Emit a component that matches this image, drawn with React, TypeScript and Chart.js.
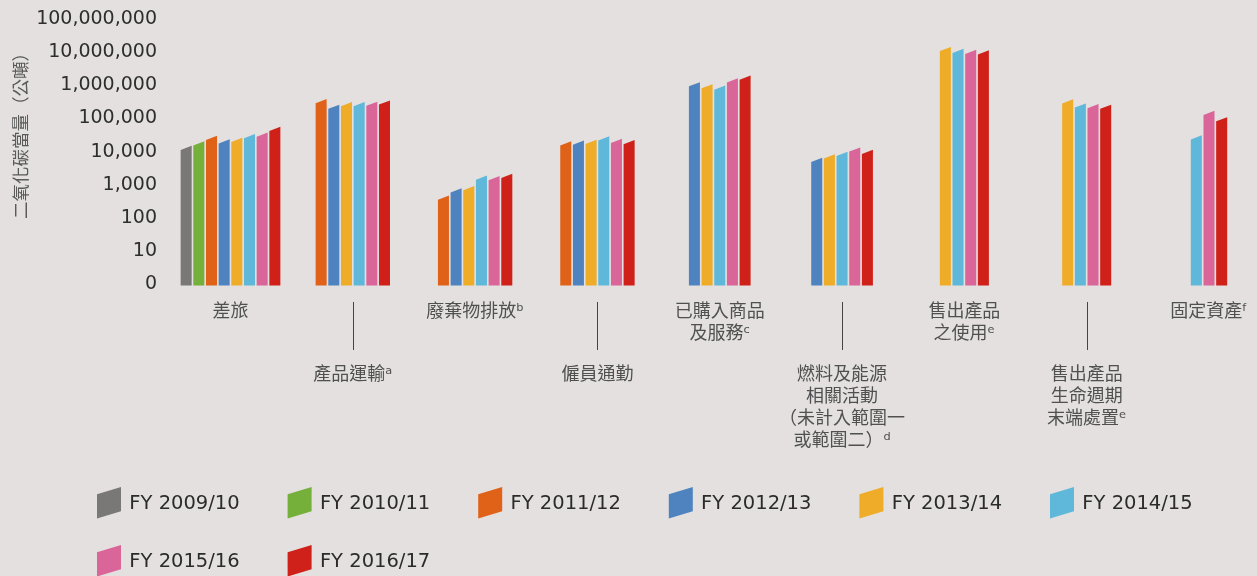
import React, { useEffect, useRef } from 'react';
import { Chart, registerables } from 'chart.js';

Chart.register(...registerables);

// ---- data ----
const categories: string[][] = [
  ['差旅'],
  ['產品運輸ᵃ'],
  ['廢棄物排放ᵇ'],
  ['僱員通勤'],
  ['已購入商品', '及服務ᶜ'],
  ['燃料及能源', '相關活動', '（未計入範圍一', '或範圍二）ᵈ'],
  ['售出產品', '之使用ᵉ'],
  ['售出產品', '生命週期', '末端處置ᵉ'],
  ['固定資產ᶠ'],
];

const seriesLabels = ['FY 2009/10', 'FY 2010/11', 'FY 2011/12', 'FY 2012/13', 'FY 2013/14', 'FY 2014/15', 'FY 2015/16', 'FY 2016/17'];
const seriesColors = ['#7a7876', '#74b03a', '#e06219', '#4f83bf', '#eeac28', '#5fb8da', '#da6699', '#cf2019'];

const fy0910 = [12900, null, null, null, null, null, null, null, null];
const fy1011 = [17700, null, null, null, null, null, null, null, null];
const fy1112 = [25900, 329000, 410, 17700, null, null, null, null, null];
const fy1213 = [20200, 224000, 680, 18600, 1064000, 5620, null, null, null];
const fy1314 = [22400, 267000, 800, 19600, 927000, 7170, 12240000, 326000, null];
const fy1415 = [29200, 270000, 1650, 24900, 841000, 8510, 10800000, 244000, 26900];
const fy1516 = [32400, 276000, 1600, 21100, 1387000, 11560, 10070000, 235000, 146000];
const fy1617 = [48500, 300000, 1870, 19200, 1686000, 9800, 9720000, 224000, 94000];
const seriesValues = [fy0910, fy1011, fy1112, fy1213, fy1314, fy1415, fy1516, fy1617];

const tickValues = [1, 10, 100, 1000, 10000, 100000, 1000000, 10000000, 100000000];
const tickLabels = ['0', '10', '100', '1,000', '10,000', '100,000', '1,000,000', '10,000,000', '100,000,000'];
const axisTitle = '二氧化碳當量（公噸）';

// ---- styles ----
const BG = '#e3e0df';
const CJK_FONT = '"Noto Sans CJK TC", "DejaVu Sans", sans-serif';
const LATIN_FONT = '"DejaVu Sans", sans-serif';
const BAR_PITCH = 12.67;
const BAR_FILL = 0.87;
const SLANT = 4.2;

const customDraw = {
  id: 'customDraw',
  beforeDatasetsDraw(chart: any) {
    const ctx = chart.ctx;
    chart.data.datasets.forEach((ds: any, di: number) => {
      const meta = chart.getDatasetMeta(di);
      if (meta.hidden) return;
      meta.data.forEach((el: any, i: number) => {
        const v = ds.data[i];
        if (v == null) return;
        const { x, y, base, width } = el.getProps(['x', 'y', 'base', 'width'], true);
        if (!isFinite(y)) return;
        const w = width * BAR_FILL;
        ctx.save();
        ctx.beginPath();
        ctx.moveTo(x - w / 2, base + 1);
        ctx.lineTo(x - w / 2, y + SLANT / 2);
        ctx.lineTo(x + w / 2, y - SLANT / 2);
        ctx.lineTo(x + w / 2, base + 1);
        ctx.closePath();
        ctx.fillStyle = ds.backgroundColor;
        ctx.fill();
        ctx.restore();
      });
    });
    return false;
  },
  afterDraw(chart: any) {
    const ctx = chart.ctx;
    const area = chart.chartArea;
    const xs = chart.scales.x;

    // category labels (staggered)
    ctx.save();
    ctx.font = `18px ${CJK_FONT}`;
    ctx.fillStyle = '#505050';
    ctx.textAlign = 'center';
    ctx.textBaseline = 'middle';
    categories.forEach((lines, i) => {
      const px = xs.getPixelForValue(i);
      const low = i % 2 === 1;
      const y0 = area.bottom + (low ? 88.5 : 26);
      lines.forEach((t, k) => ctx.fillText(t, px, y0 + k * 22));
      if (low) {
        ctx.beginPath();
        ctx.strokeStyle = '#444';
        ctx.lineWidth = 1;
        const lx = Math.round(px) + 0.5;
        ctx.moveTo(lx, area.bottom + 17.5);
        ctx.lineTo(lx, area.bottom + 65.5);
        ctx.stroke();
      }
    });
    ctx.restore();

    // y axis title
    ctx.save();
    ctx.translate(20.7, (area.top + area.bottom) / 2 - 20);
    ctx.rotate(-Math.PI / 2);
    ctx.font = `17.5px ${CJK_FONT}`;
    ctx.fillStyle = '#5a5a5a';
    ctx.textAlign = 'center';
    ctx.textBaseline = 'middle';
    ctx.fillText(axisTitle, 0, 0);
    ctx.restore();

    // legend
    ctx.save();
    ctx.font = `19.5px ${LATIN_FONT}`;
    ctx.textAlign = 'left';
    ctx.textBaseline = 'middle';
    seriesLabels.forEach((label, i) => {
      const col = i % 6;
      const row = Math.floor(i / 6);
      const x0 = 97 + col * 190.6;
      const cy = area.bottom + 219 + row * 58;
      ctx.beginPath();
      ctx.moveTo(x0, cy - 9.3);
      ctx.lineTo(x0 + 24, cy - 16.6);
      ctx.lineTo(x0 + 24, cy + 7.7);
      ctx.lineTo(x0, cy + 15);
      ctx.closePath();
      ctx.fillStyle = seriesColors[i];
      ctx.fill();
      ctx.fillStyle = '#2b2b2b';
      ctx.fillText(label, x0 + 32.3, cy);
    });
    ctx.restore();
  },
};

export default function App() {
  const ref = useRef<HTMLCanvasElement | null>(null);

  useEffect(() => {
    if (!ref.current) return;
    const chart = new Chart(ref.current, {
      type: 'bar',
      data: {
        labels: categories.map((c) => c.join('')),
        datasets: seriesValues.map((data, i) => ({
          label: seriesLabels[i],
          data,
          backgroundColor: seriesColors[i],
          barThickness: BAR_PITCH,
          skipNull: true,
        })) as any,
      },
      options: {
        responsive: false,
        animation: false,
        devicePixelRatio: 1,
        layout: { padding: { left: 0, right: 48, top: 18.7, bottom: 291.5 } },
        plugins: {
          legend: { display: false },
          tooltip: { enabled: false },
        },
        scales: {
          x: {
            type: 'category',
            offset: false,
            display: false,
            grid: { display: false },
          },
          y: {
            type: 'logarithmic',
            min: 1,
            max: 100000000,
            grid: { display: false, drawTicks: false },
            border: { display: false },
            afterBuildTicks: (axis: any) => {
              axis.ticks = tickValues.map((v) => ({ value: v }));
            },
            afterFit: (axis: any) => {
              axis.width = 230.5;
              axis.paddingTop = 0;
              axis.paddingBottom = 0;
            },
            ticks: {
              autoSkip: false,
              padding: 73.5,
              color: '#2e2e2e',
              font: { family: 'DejaVu Sans', size: 19 },
              callback: (v: any) => {
                const idx = tickValues.indexOf(Number(v));
                return idx >= 0 ? tickLabels[idx] : '';
              },
            },
          },
        },
      } as any,
      plugins: [customDraw],
    });
    return () => chart.destroy();
  }, []);

  return (
    <div style={{ position: 'fixed', left: 0, top: 0, width: 1257, height: 576, background: BG }}>
      <canvas ref={ref} width={1257} height={576} style={{ display: 'block', width: 1257, height: 576 }} />
    </div>
  );
}
